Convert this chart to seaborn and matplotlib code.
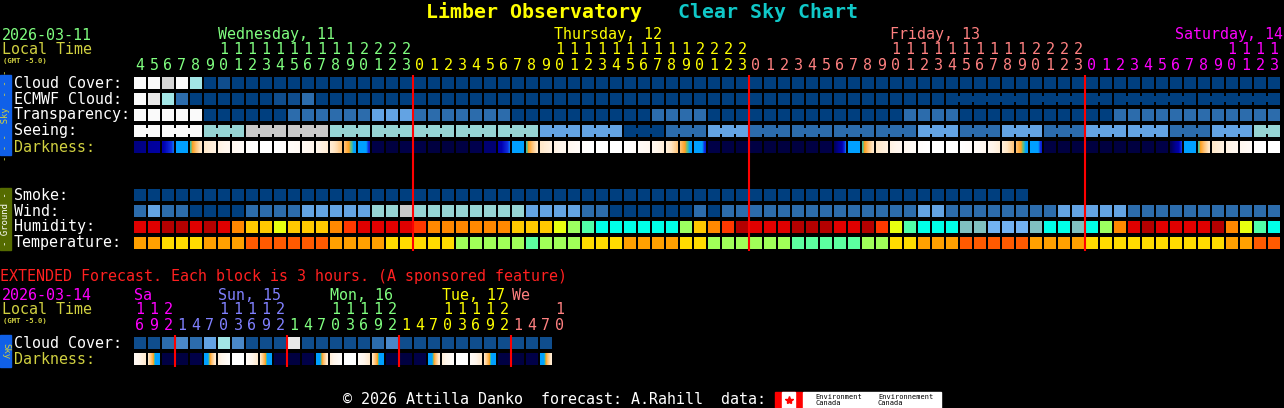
import numpy as np
import matplotlib
matplotlib.use('Agg')
import matplotlib.pyplot as plt
from matplotlib.colors import ListedColormap, LinearSegmentedColormap
from matplotlib.patches import Rectangle
import seaborn as sns

W, H = 1284, 408
FONT = ['DejaVu Sans Mono', 'DejaVu Sans']

# ---------------------------------------------------------------- data ----
# main chart: one block per hour, Wed 11 04:00 .. Sat 14 13:00 local time
first_hour = 4
day_names = ['Wednesday, 11', 'Thursday, 12', 'Friday, 13', 'Saturday, 14']
day_colors = ['#80ff80', '#ffff00', '#ff8080', '#ff00ff']
day_lengths = [20, 24, 24, 14]

# cloud cover, percent
cloud_wed = [100, 100, 80, 100, 70, 0, 10, 0, 0, 0, 0, 0, 0, 0, 0, 0, 0, 0, 0, 0]
cloud_thu = [0, 0, 0, 0, 0, 0, 0, 0, 0, 0, 0, 0, 0, 0, 0, 0, 0, 0, 0, 0, 0, 0, 0, 0]
cloud_fri = [0, 0, 0, 0, 0, 0, 0, 0, 0, 0, 0, 0, 0, 0, 0, 0, 0, 0, 0, 0, 0, 0, 0, 0]
cloud_sat = [0, 0, 0, 0, 0, 0, 0, 0, 0, 0, 0, 0, 0, 0]

# ECMWF cloud, percent
ecmwf_wed = [100, 90, 70, 20, 0, 0, 0, 0, 0, 0, 10, 10, 20, 0, 0, 0, 0, 0, 0, 0]
ecmwf_thu = [0, 0, 0, 0, 0, 0, 0, 0, 0, 0, 0, 0, 0, 0, 0, 0, 0, 0, 0, 0, 0, 0, 0, 0]
ecmwf_fri = [0, 0, 0, 0, 0, 0, 0, 0, 0, 0, 0, 0, 0, 0, 0, 0, 0, 0, 0, 0, 0, 0, 0, 0]
ecmwf_sat = [0, 0, 0, 0, 0, 0, 0, 0, 0, 0, 0, 0, 0, 0]

# transparency: 0 too cloudy, 3 average, 4 above average, 5 transparent
transp_wed = [0, 0, 0, 0, 0, 5, 5, 5, 5, 5, 5, 4, 4, 4, 4, 4, 4, 3, 3, 3]
transp_thu = [4, 4, 4, 4, 4, 4, 4, 5, 5, 5, 5, 5, 5, 5, 5, 5, 5, 4, 4, 4, 4, 5, 5, 5]
transp_fri = [5, 5, 5, 5, 5, 5, 5, 5, 5, 5, 5, 4, 4, 4, 4, 5, 5, 5, 5, 5, 5, 5, 5, 5]
transp_sat = [5, 5, 4, 4, 4, 4, 4, 4, 4, 4, 4, 4, 4, 4]

# seeing: 0 too cloudy, 1 bad .. 5 excellent (3 hour forecasts)
seeing_wed = [0, 0, 0, 0, 0, 2, 2, 2, 1, 1, 1, 1, 1, 1, 2, 2, 2, 2, 2, 2]
seeing_thu = [2, 2, 2, 2, 2, 2, 2, 2, 2, 3, 3, 3, 3, 3, 3, 5, 5, 5, 4, 4, 4, 3, 3, 3]
seeing_fri = [4, 4, 4, 4, 4, 4, 4, 4, 4, 4, 4, 4, 3, 3, 3, 4, 4, 4, 3, 3, 3, 4, 4, 4]
seeing_sat = [3, 3, 3, 3, 3, 3, 4, 4, 4, 3, 3, 3, 2, 2]

# darkness (sky brightness index, higher = darker), value at start / end of hour
dark_start_wed = [4.5, 3.9, 3.4, 2.1, 0.3, -1.3, -1.8, -2.2, -2.8, -3.0, -3.0, -2.7, -2.4, -2.0,
                  -1.5, -0.5, 0.8, 6.0, 6.3, 6.0]
dark_end_wed = [4.3, 3.7, 2.4, 0.6, -1.3, -1.8, -2.2, -2.6, -3.0, -3.0, -2.8, -2.4, -2.0, -1.5,
                -0.6, 0.7, 2.8, 6.0, 6.3, 6.0]
dark_start_thu = [6.0, 6.3, 6.3, 6.2, 5.8, 4.8, 3.6, 2.1, 0.3, -1.3, -1.8, -2.2, -2.8, -3.0,
                  -3.0, -3.0, -2.6, -2.2, -1.6, -0.5, 0.8, 6.0, 6.2, 6.3]
dark_end_thu = [6.0, 6.3, 6.3, 6.2, 5.8, 4.8, 2.4, 0.6, -1.3, -1.8, -2.2, -2.6, -3.0, -3.0,
                -3.0, -2.7, -2.2, -1.6, -0.6, 0.7, 2.8, 6.0, 6.2, 6.3]
dark_start_fri = [6.2, 6.3, 6.3, 6.3, 6.2, 6.0, 5.2, 2.1, 0.3, -1.3, -1.8, -2.2, -2.8, -3.0,
                  -3.0, -3.0, -2.6, -2.2, -1.6, -0.5, 0.8, 6.2, 6.3, 6.3]
dark_end_fri = [6.2, 6.3, 6.3, 6.3, 6.2, 6.0, 2.4, 0.6, -1.3, -1.8, -2.2, -2.6, -3.0, -3.0,
                -3.0, -2.7, -2.2, -1.6, -0.6, 0.7, 2.8, 6.2, 6.3, 6.3]
dark_start_sat = [6.3, 6.3, 6.3, 6.3, 6.2, 6.0, 5.5, 2.1, 0.3, -1.3, -1.8, -2.2, -2.8, -3.0]
dark_end_sat = [6.3, 6.3, 6.3, 6.3, 6.2, 6.0, 2.6, 0.6, -1.3, -1.8, -2.2, -2.6, -3.0, -3.0]

# smoke (ug/m^3), None = no forecast
smoke_wed = [0, 0, 0, 0, 0, 0, 0, 0, 0, 0, 0, 0, 0, 0, 0, 0, 0, 0, 0, 0]
smoke_thu = [0, 0, 0, 0, 0, 0, 0, 0, 0, 0, 0, 0, 0, 0, 0, 0, 0, 0, 0, 0, 0, 0, 0, 0]
smoke_fri = [0, 0, 0, 0, 0, 0, 0, 0, 0, 0, 0, 0, 0, 0, 0, 0, 0, 0, 0, 0, None, None, None, None]
smoke_sat = [None] * 14

# wind, mph
wind_wed = [8, 14, 8, 8, 3, 3, 3, 3, 8, 8, 8, 8, 14, 14, 14, 14, 14, 20, 20, 30]
wind_thu = [20, 20, 20, 20, 20, 20, 20, 20, 14, 14, 14, 14, 8, 8, 3, 3, 3, 3, 3, 3, 8, 3, 8, 8]
wind_fri = [8, 8, 8, 8, 8, 8, 8, 8, 8, 8, 8, 8, 14, 14, 8, 8, 8, 8, 8, 8, 8, 8, 14, 14]
wind_sat = [14, 14, 14, 8, 8, 8, 8, 8, 8, 8, 8, 8, 8, 8]

# relative humidity, percent
hum_wed = [82, 82, 92, 92, 82, 92, 82, 67, 62, 62, 57, 62, 62, 62, 67, 72, 82, 82, 82, 82]
hum_thu = [72, 67, 67, 67, 67, 67, 67, 62, 62, 62, 57, 52, 47, 42, 42, 42, 42, 42, 42, 52,
           62, 67, 72, 92]
hum_fri = [82, 82, 82, 92, 92, 92, 82, 82, 92, 72, 57, 47, 42, 42, 42, 37, 37, 32, 32, 32,
           37, 42, 42, 37]
hum_sat = [42, 52, 67, 82, 92, 82, 82, 82, 82, 92, 67, 57, 47, 42]

# temperature, F
temp_wed = [70, 70, 63, 63, 63, 70, 70, 70, 79, 79, 79, 79, 79, 79, 70, 70, 70, 70, 63, 63]
temp_thu = [63, 63, 63, 54, 54, 54, 54, 54, 46, 54, 54, 54, 63, 63, 63, 70, 70, 70, 70, 63,
            63, 54, 54, 54]
temp_fri = [54, 54, 54, 46, 46, 46, 46, 46, 54, 54, 63, 63, 70, 70, 70, 79, 79, 79, 79, 79,
            70, 70, 70, 70]
temp_sat = [63, 63, 63, 63, 63, 63, 63, 63, 63, 63, 70, 70, 79, 79]

# extended forecast: one block per 3 hours, Sat 14 16:00 .. Wed 18 07:00
ext_day_names = ['Sa', 'Sun, 15', 'Mon, 16', 'Tue, 17', 'We']
ext_day_colors = ['#ff00ff', '#8080ff', '#80ff80', '#ffff00', '#ff8080']
ext_hours = [16, 19, 22,
             1, 4, 7, 10, 13, 16, 19, 22,
             1, 4, 7, 10, 13, 16, 19, 22,
             1, 4, 7, 10, 13, 16, 19, 22,
             1, 4, 7, 10]
ext_cloud = [10, 10, 20, 40, 20, 50, 70, 40, 10, 10, 10, 90, 10, 10, 10, 10, 10, 20, 40, 10,
             10, 10, 10, 10, 10, 10, 10, 10, 10, 10]
ext_dark_start = [-2.4, -1.2, 6.2, 6.3, 6.0, 1.5, -1.6, -3.0, -2.6, -1.2, 6.2, 6.3, 6.0, 1.5,
                  -1.6, -3.0, -2.6, -1.2, 6.2, 6.3, 6.0, 1.5, -1.6, -3.0, -2.6, -1.2, 6.2,
                  6.3, 6.0, 1.5]
ext_dark_end = [-1.4, 1.5, 6.2, 6.3, 6.0, -1.5, -2.8, -3.0, -1.4, 1.5, 6.2, 6.3, 6.0, -1.5,
                -2.8, -3.0, -1.4, 1.5, 6.2, 6.3, 6.0, -1.5, -2.8, -3.0, -1.4, 1.5, 6.2,
                6.3, 6.0, -1.5]

# -------------------------------------------------------------- colours ---
CLOUD_COLORS = {0: '#003f7f', 10: '#0f4d8d', 20: '#2c6cac', 30: '#3b7bbb', 40: '#4a88c8',
                50: '#63a3e3', 60: '#77b7f7', 70: '#a2e6e6', 80: '#d4d4d4', 90: '#e8e8e8',
                100: '#fafafa'}
SEEING_COLORS = {0: '#fafafa', 1: '#c8c8c8', 2: '#96d4d4', 3: '#63a3e3', 4: '#2c6cac',
                 5: '#003f7f'}


def wind_color(v):
    for lim, c in [(5, '#003f7f'), (11, '#2c6cac'), (16, '#63a3e3'), (28, '#96d4d4')]:
        if v <= lim:
            return c
    return '#c8c8c8'


def hum_color(v):
    steps = [(35, '#72b2f2'), (40, '#80c0c0'), (45, '#00ffe8'), (50, '#50ffa8'),
             (55, '#9cff60'), (60, '#e8ff10'), (65, '#ffc800'), (70, '#ff8800'),
             (75, '#ff3800'), (88, '#e00000')]
    for lim, c in steps:
        if v < lim:
            return c
    return '#b40000'


def temp_color(v):
    for lim, c in [(50, '#5cffa0'), (59, '#a0ff58'), (68, '#ffdc00'), (77, '#ffa000')]:
        if v < lim:
            return c
    return '#ff5a00'


dark_cmap = LinearSegmentedColormap.from_list('darkness', [
    (0.0, '#ffffff'), (1.0 / 9.5, '#fff6ec'), (1.8 / 9.5, '#ffe6c4'), (2.5 / 9.5, '#ffc070'),
    (3.0 / 9.5, '#ffa020'), (3.25 / 9.5, '#50c090'), (3.5 / 9.5, '#00a0ff'),
    (5.2 / 9.5, '#00a0ff'), (5.6 / 9.5, '#1030e0'), (6.3 / 9.5, '#0000b0'),
    (7.2 / 9.5, '#000090'), (8.2 / 9.5, '#000060'), (9.0 / 9.5, '#000048'),
    (1.0, '#00003c')])
dark_cmap.set_bad('black')

# ------------------------------------------------------------- geometry ---
X0, PITCH, BLOCK = 134, 14, 12
sky_rows_y = [77, 93, 109, 125, 141]
ground_rows_y = [189, 205, 221, 237]
ext_rows_y = [337, 353]
FS = 10.8

sns.set_theme(style='dark', rc={'figure.facecolor': 'black', 'axes.facecolor': 'black',
                                'savefig.facecolor': 'black'})
plt.rcParams['font.family'] = FONT

fig = plt.figure(figsize=(W / 100, H / 100), dpi=100)
ax = fig.add_axes([0, 0, 1, 1])
ax.set_xlim(0, W)
ax.set_ylim(H, 0)
ax.axis('off')


def px_axes(x, y, w, h, z=1):
    a = fig.add_axes([x / W, 1 - (y + h) / H, w / W, h / H], zorder=z)
    a.set_facecolor('black')
    return a


def block_row(y, colors, connect=None):
    n = len(colors)
    a = px_axes(X0 - 1, y - 1, n * PITCH, BLOCK + 2)
    present = [c for c in colors if c is not None]
    palette = list(dict.fromkeys(present))
    codes = np.array([[palette.index(c) if c is not None else np.nan for c in colors]])
    sns.heatmap(codes, mask=np.isnan(codes), cmap=ListedColormap(palette), vmin=-0.5,
                vmax=len(palette) - 0.5, cbar=False, linewidths=1.44, linecolor='black',
                xticklabels=False, yticklabels=False, ax=a)
    if connect is not None:
        for i in range(n - 1):
            if connect[i] and colors[i] is not None:
                a.bar(i + 1, 0.42, bottom=0.29, width=0.2, color=colors[i], align='center',
                      linewidth=0, zorder=3)
    a.set_xlim(0, n)
    a.set_ylim(1, 0)
    a.axis('off')
    return a


def dark_row(y, start, end):
    n = len(start)
    img = np.full((1, n * PITCH), np.nan)
    for i in range(n):
        img[0, i * PITCH:i * PITCH + BLOCK] = np.linspace(start[i], end[i], BLOCK)
    a = px_axes(X0, y, n * PITCH, BLOCK)
    a.imshow(img, cmap=dark_cmap, vmin=-3, vmax=6.5, aspect='auto', interpolation='nearest')
    a.axis('off')


def txt(x, y, s, color, size=FS, **kw):
    kw.setdefault('ha', 'left')
    ax.text(x, y, s, color=color, fontsize=size, va='center', **kw)


cloud = cloud_wed + cloud_thu + cloud_fri + cloud_sat
ecmwf = ecmwf_wed + ecmwf_thu + ecmwf_fri + ecmwf_sat
transp = transp_wed + transp_thu + transp_fri + transp_sat
seeing = seeing_wed + seeing_thu + seeing_fri + seeing_sat
dark_start = dark_start_wed + dark_start_thu + dark_start_fri + dark_start_sat
dark_end = dark_end_wed + dark_end_thu + dark_end_fri + dark_end_sat
smoke = smoke_wed + smoke_thu + smoke_fri + smoke_sat
wind = wind_wed + wind_thu + wind_fri + wind_sat
hum = hum_wed + hum_thu + hum_fri + hum_sat
temp = temp_wed + temp_thu + temp_fri + temp_sat

n = len(cloud)
hours = [(first_hour + i) % 24 for i in range(n)]
day_of = np.repeat(np.arange(len(day_lengths)), day_lengths)

# seeing is issued per 3 hours, late ECMWF per 6 hours: join those blocks
seeing_join = [hours[i + 1] % 3 != 0 for i in range(n - 1)]
ecmwf_start = int(np.argmax(np.array(day_of) == 2)) + 14
ecmwf_join = [i >= ecmwf_start and (hours[i + 1] - 2) % 6 != 0 for i in range(n - 1)]

block_row(sky_rows_y[0], [CLOUD_COLORS[v] for v in cloud])
block_row(sky_rows_y[1], [CLOUD_COLORS[v] for v in ecmwf], ecmwf_join)
block_row(sky_rows_y[2], [SEEING_COLORS[v] for v in transp])
block_row(sky_rows_y[3], [SEEING_COLORS[v] for v in seeing], seeing_join)
dark_row(sky_rows_y[4], dark_start, dark_end)

block_row(ground_rows_y[0], [CLOUD_COLORS[0] if v is not None else None for v in smoke])
block_row(ground_rows_y[1], [wind_color(v) for v in wind])
block_row(ground_rows_y[2], [hum_color(v) for v in hum])
block_row(ground_rows_y[3], [temp_color(v) for v in temp])

block_row(ext_rows_y[0], [CLOUD_COLORS[v] for v in ext_cloud])
dark_row(ext_rows_y[1], ext_dark_start, ext_dark_end)

# overlay for midnight markers
ov = fig.add_axes([0, 0, 1, 1], zorder=10)
ov.set_xlim(0, W)
ov.set_ylim(H, 0)
ov.axis('off')
ov.patch.set_alpha(0)
mid = [i for i in range(1, n) if hours[i] == 0]
ov.vlines([X0 + PITCH * i - 1 for i in mid], 75, 251, color='#ff0000', lw=1.5)
ext_mid = [k for k in range(1, len(ext_cloud)) if ext_hours[k] < ext_hours[k - 1]]
ov.vlines([X0 + PITCH * k - 1 for k in ext_mid], 335, 367, color='#ff0000', lw=1.5)

# ----------------------------------------------------------------- text ---
txt(426, 12, 'Limber Observatory', '#ffff00', 14.3, weight='bold')
txt(678, 12, 'Clear Sky Chart', '#10c8c8', 14.3, weight='bold')

TIME_COL = '#d0d040'
txt(2, 35, '2026-03-11', '#80ff80')
txt(2, 50, 'Local Time', TIME_COL)
txt(3, 61.5, '(GMT -5.0)', TIME_COL, 5.2, weight='bold')

for i in range(n):
    cx = X0 + PITCH * i + BLOCK / 2
    col = day_colors[day_of[i]]
    txt(cx, 65, str(hours[i] % 10), col, ha='center')
    if hours[i] >= 10:
        txt(cx, 50, str(hours[i] // 10), col, ha='center')

starts = np.concatenate([[0], np.cumsum(day_lengths)[:-1]])
for d, name in enumerate(day_names):
    i10 = starts[d] + [hours[j] for j in range(starts[d], starts[d] + day_lengths[d])].index(10)
    x = X0 + PITCH * i10
    if x + len(name) * 9 > W:
        txt(W - 1, 35, name, day_colors[d], ha='right')
    else:
        txt(x, 35, name, day_colors[d])

for lbl, y in zip(['Cloud Cover:', 'ECMWF Cloud:', 'Transparency:', 'Seeing:', 'Darkness:'],
                  sky_rows_y):
    txt(14, y + 6, lbl, TIME_COL if lbl == 'Darkness:' else 'white')
for lbl, y in zip(['Smoke:', 'Wind:', 'Humidity:', 'Temperature:'], ground_rows_y):
    txt(14, y + 6, lbl, 'white')

ax.add_patch(Rectangle((0, 75), 11, 80, color='#1060e8'))
txt(5.5, 115, '- - -  Sky  - - -', TIME_COL, 6.5, rotation=90, ha='center')
ax.add_patch(Rectangle((0, 188), 11, 62, color='#556b00'))
txt(5.5, 219, '- Ground -', 'white', 6.5, rotation=90, ha='center')

# extended forecast
txt(0, 276, 'EXTENDED Forecast. Each block is 3 hours. (A sponsored feature)', '#ff2020')
txt(2, 295, '2026-03-14', '#ff00ff')
txt(2, 310, 'Local Time', TIME_COL)
txt(3, 321.5, '(GMT -5.0)', TIME_COL, 5.2, weight='bold')

ext_day = np.cumsum([0] + [1 if ext_hours[k] < ext_hours[k - 1] else 0
                           for k in range(1, len(ext_hours))])
for k, h in enumerate(ext_hours):
    cx = X0 + PITCH * k + BLOCK / 2
    col = ext_day_colors[ext_day[k]]
    txt(cx, 325, str(h % 10), col, ha='center')
    if h >= 10:
        txt(cx, 310, str(h // 10), col, ha='center')
for d, name in enumerate(ext_day_names):
    ks = [k for k in range(len(ext_hours)) if ext_day[k] == d]
    k0 = ks[0] if len(ks) < 8 else [k for k in ks if ext_hours[k] >= 10][0]
    txt(X0 + PITCH * k0, 295, name, ext_day_colors[d])

txt(14, ext_rows_y[0] + 6, 'Cloud Cover:', 'white')
txt(14, ext_rows_y[1] + 6, 'Darkness:', TIME_COL)
ax.add_patch(Rectangle((0, 335), 11, 32, color='#1060e8'))
txt(5.5, 351, 'Sky', TIME_COL, 6.5, rotation=270, ha='center')

# footer
txt(343, 400, '\u00a9 2026 Attilla Danko  forecast: A.Rahill  data:', 'white')
ax.add_patch(Rectangle((775, 392), 27, 16, color='#ff0000'))
ax.add_patch(Rectangle((782, 392), 13, 16, color='white'))
ax.plot([788.5], [400], marker='*', color='#ff0000', markersize=6)
ax.add_patch(Rectangle((803, 392), 138, 16, color='white'))
txt(815, 400, 'Environment\nCanada', 'black', 5, linespacing=0.9)
txt(878, 400, 'Environnement\nCanada', 'black', 5, linespacing=0.9)

fig.savefig('out.png', dpi=100, facecolor='black')
